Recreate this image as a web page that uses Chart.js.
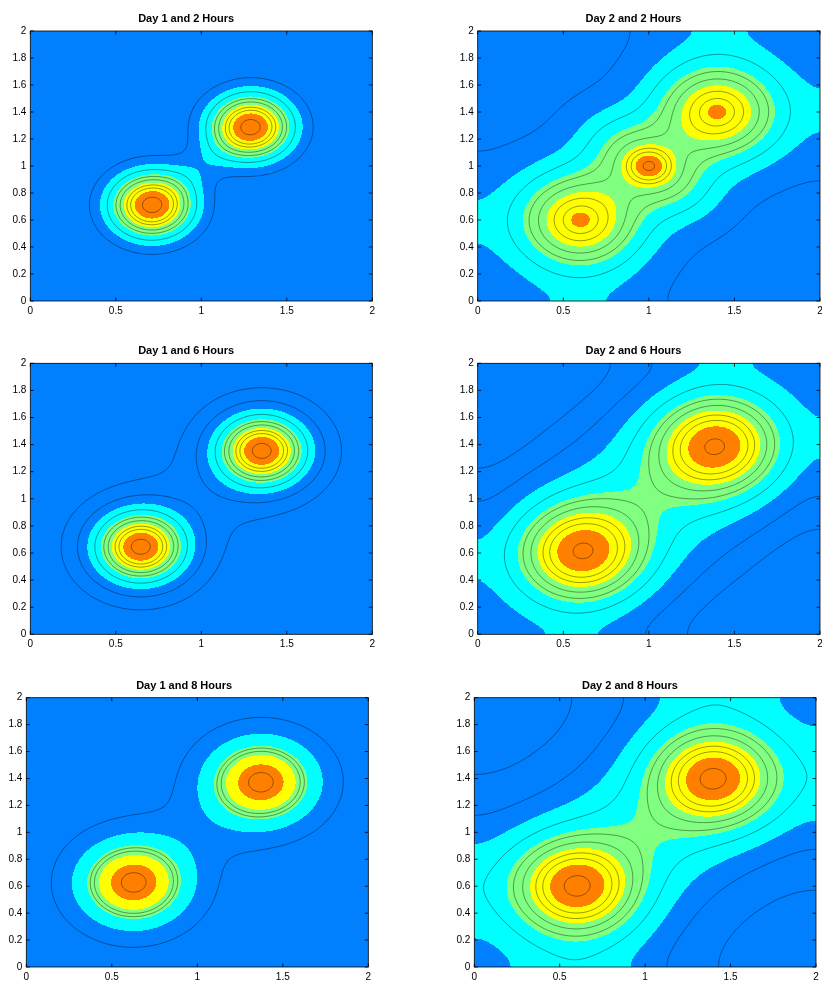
<!DOCTYPE html>
<html>
<head>
<meta charset="utf-8">
<script src="https://cdn.jsdelivr.net/npm/chart.js@4.4.1/dist/chart.umd.min.js"></script>
<style>
  html, body { margin: 0; padding: 0; background: #fff; }
  body { position: relative; width: 822px; height: 981px; overflow: hidden; }
  canvas { position: absolute; }
</style>
</head>
<body>
<script>
// ---- data ----
const panelTitles = ['Day 1 and 2 Hours', 'Day 2 and 2 Hours', 'Day 1 and 6 Hours',
                     'Day 2 and 6 Hours', 'Day 1 and 8 Hours', 'Day 2 and 8 Hours'];

const xTicks = [0, 0.5, 1, 1.5, 2];
const yTicks = [0, 0.2, 0.4, 0.6, 0.8, 1, 1.2, 1.4, 1.6, 1.8, 2];

// field components per panel: centre, height, width along / across the diagonal, tail (0 = gaussian)
const compX      = [[0.71, 1.29, 1.0], [0.6, 1.4, 0.6, 1.4, 1.0, 1.0], [0.645, 1.355, 1.0],
                    [0.6, 1.4, 1.0], [0.625, 1.375, 1.0], [0.6, 1.4, 1.0]];
const compY      = [[0.71, 1.29, 1.0], [0.6, 1.4, 0.6, 1.4, 1.0, 1.0], [0.645, 1.355, 1.0],
                    [0.6, 1.4, 1.0], [0.625, 1.375, 1.0], [0.6, 1.4, 1.0]];
const compAmp    = [[0.94, 0.94, 0.08], [0.75, 0.75, 0.08, 0.08, 0.38, 0.29], [0.938, 0.938, 0.05],
                    [0.69, 0.69, 0.31], [0.974, 0.974, 0.08], [0.9, 0.9, 0.09]];
const compAlong  = [[0.172, 0.172, 0.2], [0.268, 0.268, 0.05, 0.05, 0.17, 0.08], [0.177, 0.177, 0.25],
                    [0.255, 0.255, 0.671], [0.201, 0.201, 0.3], [0.27, 0.27, 0.22]];
const compAcross = [[0.172, 0.172, 0.1], [0.268, 0.268, 0.05, 0.05, 0.3, 0.08], [0.177, 0.177, 0.23],
                    [0.255, 0.255, 0.406], [0.201, 0.201, 0.21], [0.27, 0.27, 0.35]];
const compTail   = [[0, 0, 0], [4, 4, 0, 0, 0, 0], [0, 0, 0],
                    [0, 0, 0], [0, 0, 0], [3.5, 3.5, 0]];

// filled levels and the colours between them, then the line levels of each panel
const fillLevels = [0.2, 0.4, 0.6, 0.8];
const fillColors = [[0, 128, 255], [0, 255, 255], [128, 255, 128], [255, 255, 0], [255, 128, 0]];
const lineLevels = [
  [0.1, 0.3, 0.45, 0.53, 0.66, 0.73, 0.9],
  [0.085, 0.3, 0.45, 0.53, 0.66, 0.73, 0.9],
  [0.03, 0.107, 0.3, 0.45, 0.53, 0.66, 0.73, 0.9],
  [0.05, 0.11, 0.3, 0.45, 0.53, 0.66, 0.73, 0.9],
  [0.058, 0.45, 0.52, 0.93],
  [0.047, 0.115, 0.3, 0.45, 0.53, 0.66, 0.73, 0.9]
];

// ---- layout: plot boxes on the page [left, top, right, bottom] ----
const plotBoxes = [[30.3, 31, 372.3, 301], [477.7, 31, 820, 301],
                   [30.3, 363.3, 372.3, 634.3], [477.7, 363.3, 820, 634.3],
                   [26.3, 697.7, 368.3, 967], [474.3, 697.7, 816, 967]];
const FONT = 'Liberation Sans, Arial, Helvetica, sans-serif';

// value of the field, with mirror images at the square's edges
function fieldValue(p, x, y) {
  const xs = [x, -x, 4 - x], ys = [y, -y, 4 - y];
  let s = 0;
  for (let k = 0; k < compX[p].length; k++) {
    const cx = compX[p][k], cy = compY[p][k], A = compAmp[p][k];
    const a = compAlong[p][k], c = compAcross[p][k], t = compTail[p][k];
    for (const xi of xs) {
      for (const yi of ys) {
        const dx = xi - cx, dy = yi - cy;
        const v = (dx + dy) * Math.SQRT1_2, u = (dy - dx) * Math.SQRT1_2;
        const q = (v / a) * (v / a) + (u / c) * (u / c);
        s += A * (t ? Math.pow(1 + q / (2 * t), -t) : Math.exp(-q / 2));
      }
    }
  }
  return s;
}

function bandOf(f) {
  let b = 0;
  while (b < fillLevels.length && f >= fillLevels[b]) b++;
  return b;
}

const contourPlugin = {
  id: 'contourField',
  beforeDatasetsDraw(chart) {
    const p = chart.options.plugins.contourField.panel;
    const ctx = chart.ctx, area = chart.chartArea;
    const sx = chart.scales.x, sy = chart.scales.y;

    // filled bands, one pixel at a time
    const x0 = Math.floor(area.left), y0 = Math.floor(area.top);
    const w = Math.ceil(area.right) - x0, h = Math.ceil(area.bottom) - y0;
    const off = document.createElement('canvas');
    off.width = w; off.height = h;
    const octx = off.getContext('2d');
    const img = octx.createImageData(w, h);
    for (let j = 0; j < h; j++) {
      const yv = sy.getValueForPixel(y0 + j + 0.5);
      for (let i = 0; i < w; i++) {
        const xv = sx.getValueForPixel(x0 + i + 0.5);
        const col = fillColors[bandOf(fieldValue(p, xv, yv))];
        const o = (j * w + i) * 4;
        img.data[o] = col[0]; img.data[o + 1] = col[1]; img.data[o + 2] = col[2]; img.data[o + 3] = 255;
      }
    }
    octx.putImageData(img, 0, 0);
    ctx.save();
    ctx.beginPath();
    ctx.rect(area.left, area.top, area.right - area.left, area.bottom - area.top);
    ctx.clip();
    ctx.drawImage(off, x0, y0);

    // contour lines by marching squares
    const n = 200, step = 2 / n;
    const grid = [];
    for (let i = 0; i <= n; i++) {
      grid.push([]);
      for (let j = 0; j <= n; j++) grid[i].push(fieldValue(p, i * step, j * step));
    }
    ctx.lineWidth = 0.8;
    ctx.strokeStyle = 'rgba(0, 0, 0, 0.5)';
    for (const L of lineLevels[p]) {
      ctx.beginPath();
      for (let i = 0; i < n; i++) {
        for (let j = 0; j < n; j++) {
          const c = [[i, j], [i + 1, j], [i + 1, j + 1], [i, j + 1]];
          const pts = [];
          for (let e = 0; e < 4; e++) {
            const A = c[e], B = c[(e + 1) % 4];
            const va = grid[A[0]][A[1]] - L, vb = grid[B[0]][B[1]] - L;
            if ((va < 0) !== (vb < 0)) {
              const t = va / (va - vb);
              pts.push([(A[0] + t * (B[0] - A[0])) * step, (A[1] + t * (B[1] - A[1])) * step]);
            }
          }
          for (let m = 0; m + 1 < pts.length; m += 2) {
            ctx.moveTo(sx.getPixelForValue(pts[m][0]), sy.getPixelForValue(pts[m][1]));
            ctx.lineTo(sx.getPixelForValue(pts[m + 1][0]), sy.getPixelForValue(pts[m + 1][1]));
          }
        }
      }
      ctx.stroke();
    }
    ctx.restore();
  },
  afterDraw(chart) {
    // box and inward ticks on all four sides
    const ctx = chart.ctx, a = chart.chartArea;
    const sx = chart.scales.x, sy = chart.scales.y;
    const tl = 3.5;
    ctx.save();
    ctx.strokeStyle = '#000';
    ctx.lineWidth = 0.8;
    ctx.strokeRect(a.left, a.top, a.right - a.left, a.bottom - a.top);
    ctx.beginPath();
    for (const t of sx.ticks) {
      const px = sx.getPixelForValue(t.value);
      ctx.moveTo(px, a.bottom); ctx.lineTo(px, a.bottom - tl);
      ctx.moveTo(px, a.top); ctx.lineTo(px, a.top + tl);
    }
    for (const t of sy.ticks) {
      const py = sy.getPixelForValue(t.value);
      ctx.moveTo(a.left, py); ctx.lineTo(a.left + tl, py);
      ctx.moveTo(a.right, py); ctx.lineTo(a.right - tl, py);
    }
    ctx.stroke();
    ctx.restore();
  }
};

plotBoxes.forEach((box, p) => {
  const [L, T, R, B] = box;
  const left = Math.max(0, Math.floor(L) - 30);
  const top = Math.floor(T) - 31;
  const yAxisW = L - left;
  const titleH = T - top;
  const width = Math.ceil(R - left + 12);
  const height = Math.ceil(B - top + 22);
  const xAxisH = height - (B - top);

  const canvas = document.createElement('canvas');
  canvas.width = width;
  canvas.height = height;
  canvas.style.left = left + 'px';
  canvas.style.top = top + 'px';
  document.body.appendChild(canvas);

  new Chart(canvas.getContext('2d'), {
    type: 'scatter',
    data: { datasets: [] },
    options: {
      responsive: false,
      animation: false,
      events: [],
      layout: { padding: { left: 0, top: 0, bottom: 0, right: width - (R - left) } },
      plugins: {
        legend: { display: false },
        tooltip: { enabled: false },
        title: {
          display: true,
          text: panelTitles[p],
          color: '#000',
          font: { family: FONT, size: 11, weight: 'bold' },
          padding: { top: titleH - 13.2 - 5.5, bottom: 5.5 }
        },
        contourField: { panel: p }
      },
      scales: {
        x: {
          type: 'linear', min: 0, max: 2,
          afterBuildTicks: s => { s.ticks = xTicks.map(v => ({ value: v })); },
          afterFit: s => { s.height = xAxisH; },
          grid: { display: false, drawTicks: false },
          border: { display: false },
          ticks: { color: '#000', font: { family: FONT, size: 10 }, padding: 4,
                   maxRotation: 0, autoSkip: false, callback: v => String(v) }
        },
        y: {
          type: 'linear', min: 0, max: 2,
          afterBuildTicks: s => { s.ticks = yTicks.map(v => ({ value: v })); },
          afterFit: s => { s.width = yAxisW; },
          grid: { display: false, drawTicks: false },
          border: { display: false },
          ticks: { color: '#000', font: { family: FONT, size: 10 }, padding: 4,
                   autoSkip: false, callback: v => String(v) }
        }
      }
    },
    plugins: [contourPlugin]
  });
});
</script>
</body>
</html>
